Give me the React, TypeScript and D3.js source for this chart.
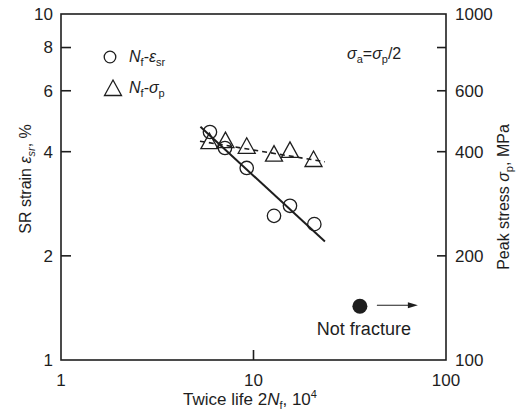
import React from "react";
import * as d3 from "d3";

const strainLife = [5.94, 7.11, 9.22, 12.78, 15.47, 20.7];
const strainVals = [4.56, 4.1, 3.59, 2.61, 2.79, 2.47];
const stressLife = [5.9, 7.15, 9.22, 12.78, 15.47, 20.5];
const stressVals = [429, 432, 416, 395, 405, 381];
const strainFitLife = [5.3, 23.5];
const strainFitVals = [4.72, 2.2];
const stressFitLife = [5.27, 23.5];
const stressFitVals = [429, 374];
const notFractureLife = [35.7];
const notFractureStrain = [1.43];

const xTickLabels = [1, 10, 100];
const leftTickLabels = [1, 2, 4, 6, 8, 10];
const leftTickMarks = [2, 4, 6, 8];
const rightTickLabels = [100, 200, 400, 600, 1000];
const rightTickMarks = [200, 400, 600, 800];

const W = 517, H = 414;
const L = 61, R = 446, T = 14, B = 360;
const INK = "#1e1e1e";
const FONT = "'Liberation Sans', Arial, sans-serif";

export default function App() {
  const x = d3.scaleLog().domain([1, 100]).range([L, R]);
  const yL = d3.scaleLog().domain([1, 10]).range([B, T]);
  const yR = d3.scaleLog().domain([100, 1000]).range([B, T]);
  const line = d3.line<[number, number]>().x(d => d[0]).y(d => d[1]);

  const tri = (cx: number, cy: number) =>
    `M${cx},${cy - 8} L${cx + 8.5},${cy + 7.5} L${cx - 8.5},${cy + 7.5} Z`;

  const strainFit = strainFitLife.map((v, i) => [x(v), yL(strainFitVals[i])] as [number, number]);
  const stressFit = stressFitLife.map((v, i) => [x(v), yR(stressFitVals[i])] as [number, number]);

  const nfx = x(notFractureLife[0]);
  const nfy = yL(notFractureStrain[0]);

  return (
    <svg width={W} height={H} style={{ position: "absolute", left: 0, top: 0, background: "#fff" }}
      fontFamily={FONT} fill={INK}>
      <rect x={L} y={T} width={R - L} height={B - T} fill="none" stroke={INK} strokeWidth={1.6} />
      {leftTickMarks.map(v => (
        <line key={"lt" + v} x1={L} x2={L + 10} y1={yL(v)} y2={yL(v)} stroke={INK} strokeWidth={1.6} />
      ))}
      {leftTickLabels.map(v => (
        <text key={"ll" + v} x={L - 8} y={yL(v)} dy="0.35em" textAnchor="end" fontSize={17}>{v}</text>
      ))}
      {rightTickMarks.map(v => (
        <line key={"rt" + v} x1={R - 9} x2={R} y1={yR(v)} y2={yR(v)} stroke={INK} strokeWidth={1.6} />
      ))}
      {rightTickLabels.map(v => (
        <text key={"rl" + v} x={R + 9} y={yR(v)} dy="0.35em" textAnchor="start" fontSize={17}>{v}</text>
      ))}
      <line x1={x(10)} x2={x(10)} y1={B} y2={B - 10} stroke={INK} strokeWidth={1.6} />
      {xTickLabels.map(v => (
        <text key={"xl" + v} x={x(v)} y={B + 26} textAnchor="middle" fontSize={17}>{v}</text>
      ))}

      <text x={250} y={405} textAnchor="middle" fontSize={17}>
        Twice life 2<tspan fontStyle="italic">N</tspan>
        <tspan fontSize={11} dy={4}>f</tspan>
        <tspan dy={-4}>, 10</tspan>
        <tspan fontSize={11} dy={-7}>4</tspan>
      </text>
      <text transform={`translate(31,179) rotate(-90)`} textAnchor="middle" fontSize={16}>
        SR strain <tspan fontStyle="italic">ε</tspan>
        <tspan fontSize={11} dy={4} fontStyle="italic">sr</tspan>
        <tspan dy={-4}>, %</tspan>
      </text>
      <text transform={`translate(509,197) rotate(-90)`} textAnchor="middle" fontSize={16}>
        Peak stress <tspan fontStyle="italic">σ</tspan>
        <tspan fontSize={11} dy={4}>p</tspan>
        <tspan dy={-4}>, MPa</tspan>
      </text>

      <path d={line(strainFit) || ""} fill="none" stroke={INK} strokeWidth={2} />
      <path d={line(stressFit) || ""} fill="none" stroke={INK} strokeWidth={1.6} strokeDasharray="5,4" />

      {strainLife.map((v, i) => (
        <circle key={"c" + i} cx={x(v)} cy={yL(strainVals[i])} r={6.7} fill="none" stroke={INK} strokeWidth={1.3} />
      ))}
      {stressLife.map((v, i) => (
        <path key={"t" + i} d={tri(x(v), yR(stressVals[i]))} fill="none" stroke={INK} strokeWidth={1.3} />
      ))}

      <circle cx={110} cy={57} r={5.8} fill="none" stroke={INK} strokeWidth={1.3} />
      <text x={129} y={62} fontSize={16}>
        <tspan fontStyle="italic">N</tspan>
        <tspan fontSize={11} dy={4}>f</tspan>
        <tspan dy={-4}>-</tspan>
        <tspan fontStyle="italic">ε</tspan>
        <tspan fontSize={11} dy={4}>sr</tspan>
      </text>
      <path d={tri(113, 88)} fill="none" stroke={INK} strokeWidth={1.3} />
      <text x={129} y={93} fontSize={16}>
        <tspan fontStyle="italic">N</tspan>
        <tspan fontSize={11} dy={4}>f</tspan>
        <tspan dy={-4}>-</tspan>
        <tspan fontStyle="italic">σ</tspan>
        <tspan fontSize={11} dy={4}>p</tspan>
      </text>

      <text x={347} y={59} fontSize={16}>
        <tspan fontStyle="italic">σ</tspan>
        <tspan fontSize={11} dy={4}>a</tspan>
        <tspan dy={-4}>=</tspan>
        <tspan fontStyle="italic">σ</tspan>
        <tspan fontSize={11} dy={4}>p</tspan>
        <tspan dy={-4}>/2</tspan>
      </text>

      <circle cx={nfx} cy={nfy} r={7.5} fill={INK} />
      <line x1={nfx + 17} x2={nfx + 50} y1={nfy - 1} y2={nfy - 1} stroke={INK} strokeWidth={1.2} />
      <path d={`M${nfx + 58},${nfy - 1} L${nfx + 48},${nfy - 4} L${nfx + 48},${nfy + 2} Z`} fill={INK} />
      <text x={nfx + 4} y={nfy + 29} textAnchor="middle" fontSize={18}>Not fracture</text>
    </svg>
  );
}
